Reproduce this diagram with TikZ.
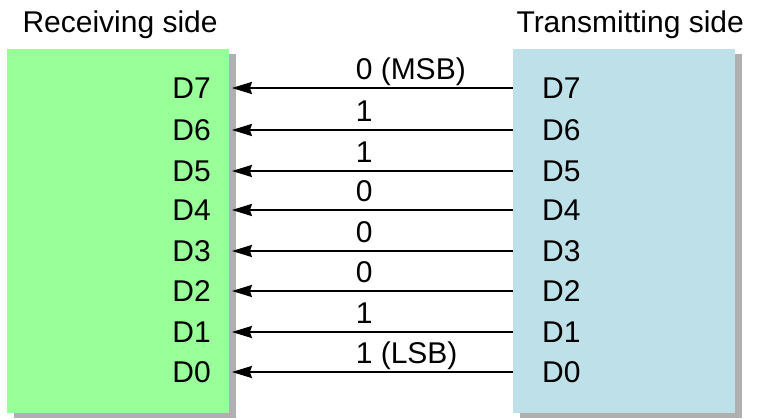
\documentclass[tikz,border=0pt]{standalone}
\usepackage{fontspec}
\setmainfont{Liberation Sans}
\usetikzlibrary{arrows.meta,shadows}
\definecolor{rxgreen}{RGB}{153,255,153}
\definecolor{txblue}{RGB}{190,224,232}
\definecolor{shade}{RGB}{176,176,176}
\begin{document}
\begin{tikzpicture}[x=1pt,y=-1pt,font=\fontsize{30}{36}\selectfont,
  box/.style={minimum width=222pt,minimum height=364pt,inner sep=0pt,
    general shadow={fill=shade,shadow xshift=7pt,shadow yshift=-5pt}},
  pin/.style={inner sep=0pt},
  bit/.style={pos=.525,anchor=base,yshift=8.5pt,inner sep=0pt},
  wire/.style={line width=2pt,shorten >=2.5pt,
    arrows={-Stealth[length=20pt,width=12pt,inset=2pt]}}]
\path[use as bounding box,fill=white] (0,0) rectangle (758,419);

\node[anchor=base west] (rxtitle) at (19,33) {Receiving side};
\node[anchor=base west] (txtitle) at (513,33) {Transmitting side};

\node[box,fill=rxgreen,anchor=north west] (rx) at (7,49) {};
\node[box,fill=txblue,anchor=north west] (tx) at (513,49) {};

% receiving side pins
\node[pin,anchor=east] (r7) at (211,88) {D7};
\node[pin,anchor=east] (r6) at (211,130) {D6};
\node[pin,anchor=east] (r5) at (211,171) {D5};
\node[pin,anchor=east] (r4) at (211,210) {D4};
\node[pin,anchor=east] (r3) at (211,251) {D3};
\node[pin,anchor=east] (r2) at (211,291) {D2};
\node[pin,anchor=east] (r1) at (211,332) {D1};
\node[pin,anchor=east] (r0) at (211,372) {D0};

% transmitting side pins
\node[pin,anchor=west] (t7) at (542,88) {D7};
\node[pin,anchor=west] (t6) at (542,130) {D6};
\node[pin,anchor=west] (t5) at (542,171) {D5};
\node[pin,anchor=west] (t4) at (542,210) {D4};
\node[pin,anchor=west] (t3) at (542,251) {D3};
\node[pin,anchor=west] (t2) at (542,291) {D2};
\node[pin,anchor=west] (t1) at (542,332) {D1};
\node[pin,anchor=west] (t0) at (542,372) {D0};

\draw[wire] (tx.west |- t7) -- node[bit] {0\rlap{ (MSB)}} (rx.east |- r7);
\draw[wire] (tx.west |- t6) -- node[bit] {1} (rx.east |- r6);
\draw[wire] (tx.west |- t5) -- node[bit] {1} (rx.east |- r5);
\draw[wire] (tx.west |- t4) -- node[bit] {0} (rx.east |- r4);
\draw[wire] (tx.west |- t3) -- node[bit] {0} (rx.east |- r3);
\draw[wire] (tx.west |- t2) -- node[bit] {0} (rx.east |- r2);
\draw[wire] (tx.west |- t1) -- node[bit] {1} (rx.east |- r1);
\draw[wire] (tx.west |- t0) -- node[bit] {1\rlap{ (LSB)}} (rx.east |- r0);

\end{tikzpicture}
\end{document}
